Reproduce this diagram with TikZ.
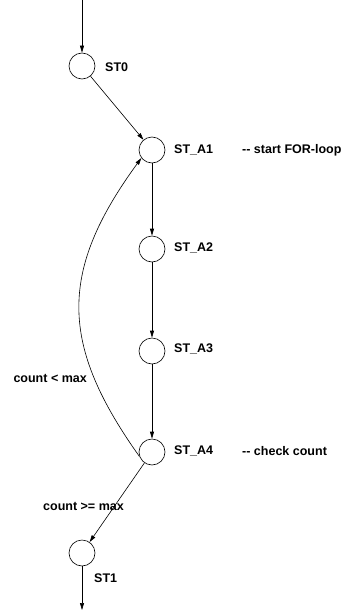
\documentclass[tikz,border=0pt]{standalone}
\usepackage{fontspec}
\setmainfont{Liberation Sans}
\usetikzlibrary{arrows.meta}
\begin{document}
\begin{tikzpicture}[x=1pt,y=-1pt,
  state/.style={draw,circle,minimum size=26pt,inner sep=0pt,line width=0.6pt},
  lbl/.style={font=\fontsize{12.5}{14}\selectfont\bfseries,inner sep=0pt,anchor=west},
  edge/.style={line width=0.6pt,-{Triangle[length=7pt,width=4pt]}}]
\useasboundingbox (0,0) rectangle (350,610);
\node[state] (st0) at (82,66) {};
\node[state] (a1) at (152,150) {};
\node[state] (a2) at (152,249) {};
\node[state] (a3) at (152,351) {};
\node[state] (a4) at (152,452) {};
\node[state] (st1) at (82,553) {};
\coordinate (top) at (82,0);
\coordinate (bot) at (82,610);
\node[lbl] (l0) at (105,67) {ST0};
\node[lbl] (l1) at (174,150) {ST\_A1};
\node[lbl] (l2) at (174,248) {ST\_A2};
\node[lbl] (l3) at (174,349) {ST\_A3};
\node[lbl] (l4) at (174,451) {ST\_A4};
\node[lbl] (c1) at (242,150) {-{}- start FOR-loop};
\node[lbl] (c4) at (242,451) {-{}- check count};
\node[lbl,anchor=east] (lt) at (87,378) {count < max};
\node[lbl] (ge) at (43,506) {count >= max};
\node[lbl] (ls1) at (94,578) {ST1};
\draw[edge] (top) -- (st0);
\draw[edge] (st0) -- (a1);
\draw[edge] (a1) -- (a2);
\draw[edge] (a2) -- (a3);
\draw[edge] (a3) -- (a4);
\draw[edge] (a4.200) .. controls (60,345) and (58,272) .. (a1.217);
\draw[edge] (a4) -- (st1);
\draw[edge] (st1) -- (bot);
\end{tikzpicture}
\end{document}
